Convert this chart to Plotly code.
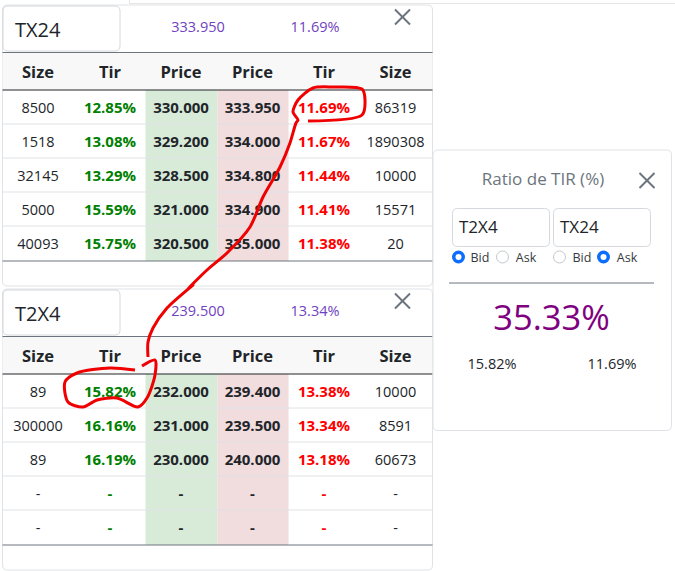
import plotly.graph_objects as go

# --- 1. DATA ---
HEADERS = ["Size", "Tir", "Price", "Price", "Tir", "Size"]

tx24_name = "TX24"
tx24_last_price = "333.950"
tx24_last_tir = "11.69%"
tx24_bid_size = ["8500", "1518", "32145", "5000", "40093"]
tx24_bid_tir = ["12.85%", "13.08%", "13.29%", "15.59%", "15.75%"]
tx24_bid_price = ["330.000", "329.200", "328.500", "321.000", "320.500"]
tx24_ask_price = ["333.950", "334.000", "334.800", "334.900", "335.000"]
tx24_ask_tir = ["11.69%", "11.67%", "11.44%", "11.41%", "11.38%"]
tx24_ask_size = ["86319", "1890308", "10000", "15571", "20"]

t2x4_name = "T2X4"
t2x4_last_price = "239.500"
t2x4_last_tir = "13.34%"
t2x4_bid_size = ["89", "300000", "89", "-", "-"]
t2x4_bid_tir = ["15.82%", "16.16%", "16.19%", "-", "-"]
t2x4_bid_price = ["232.000", "231.000", "230.000", "-", "-"]
t2x4_ask_price = ["239.400", "239.500", "240.000", "-", "-"]
t2x4_ask_tir = ["13.38%", "13.34%", "13.18%", "-", "-"]
t2x4_ask_size = ["10000", "8591", "60673", "-", "-"]

ratio_title = "Ratio de TIR (%)"
ratio_value = "35.33%"
ratio_left = "15.82%"
ratio_right = "11.69%"

# hand drawn red marks on top of the screenshot, in page pixels
stroke_x = [308, 362, 365, 362, 333, 313, 298, 293, 298, 296, 290, 280, 263, 250, 227, 207, 187,
            193, 167, 153, 148, 148]
stroke_y = [121, 115, 100, 89, 87, 88, 100, 112, 120, 123, 143, 167, 197, 227, 253, 270, 290,
            285, 308, 328, 342, 357]
circle_x = [142, 155, 155, 147, 138, 117, 97, 83, 68, 65, 77, 110, 135]
circle_y = [366, 360, 375, 398, 407, 398, 400, 407, 402, 382, 373, 368, 370]

FONT = "Open Sans"
DARK = "#212529"
GREY = "#6c757d"
PURPLE_TEXT = "#6f42c1"
GREEN = "#008000"
RED = "#ff0000"
BORDER = "#dfe2e6"

shapes = []
text_x, text_y, text_s, text_c, text_z = [], [], [], [], []
left_texts = []


def add_text(x, y, s, color=DARK, size=14.5, left=False):
    text_x.append(x)
    text_y.append(y)
    text_s.append(s)
    text_c.append(color)
    text_z.append(size)
    left_texts.append(left)


def rounded(x0, y0, x1, y1, r=5, fill="white", line=BORDER, width=1):
    path = (f"M{x0+r},{y0} L{x1-r},{y0} Q{x1},{y0} {x1},{y0+r} L{x1},{y1-r} Q{x1},{y1} {x1-r},{y1} "
            f"L{x0+r},{y1} Q{x0},{y1} {x0},{y1-r} L{x0},{y0+r} Q{x0},{y0} {x0+r},{y0} Z")
    shapes.append(dict(type="path", path=path, fillcolor=fill, line=dict(color=line, width=width)))


def rect(x0, y0, x1, y1, fill):
    shapes.append(dict(type="rect", x0=x0, y0=y0, x1=x1, y1=y1, fillcolor=fill, line=dict(width=0)))


def hline(x0, x1, y, color, width=1):
    shapes.append(dict(type="line", x0=x0, x1=x1, y0=y, y1=y, line=dict(color=color, width=width)))


def close_icon(cx, cy, half=7.5):
    for sign in (1, -1):
        shapes.append(dict(type="line", x0=cx - half, x1=cx + half, y0=cy - sign * half, y1=cy + sign * half,
                           line=dict(color=GREY, width=2)))


def radio(cx, cy, checked):
    if checked:
        shapes.append(dict(type="circle", x0=cx - 6.5, x1=cx + 6.5, y0=cy - 6.5, y1=cy + 6.5,
                           fillcolor="#0d6efd", line=dict(width=0)))
        shapes.append(dict(type="circle", x0=cx - 3, x1=cx + 3, y0=cy - 3, y1=cy + 3,
                           fillcolor="white", line=dict(width=0)))
    else:
        shapes.append(dict(type="circle", x0=cx - 6, x1=cx + 6, y0=cy - 6, y1=cy + 6,
                           fillcolor="white", line=dict(color="#c4c8cc", width=1)))


# --- 2. QUOTE CARDS ---
def quote_card(top, name, last_price, last_tir, columns):
    rounded(2.5, top, 432.5, top + 281)
    rounded(3, top + 1, 120, top + 46, fill="white", line="#d5d8dc")
    add_text(15, top + 26.5, name, size=20, left=True)
    add_text(198, top + 23, last_price, PURPLE_TEXT)
    add_text(315, top + 23, last_tir, PURPLE_TEXT)
    close_icon(402.5, top + 12)

    head_y0 = top + 47.5
    head_y1 = head_y0 + 37.5
    rect(2.5, head_y0, 432.5, head_y1, "#f8f8f8")
    rect(145.5, head_y1, 217.5, head_y1 + 171, "#d8ebd9")
    rect(217.5, head_y1, 288.5, head_y1 + 171, "#f1dcde")
    hline(2.5, 432.5, head_y0, GREY)
    hline(2.5, 432.5, head_y1, DARK)
    for i in range(1, 5):
        hline(2.5, 432.5, head_y1 + 34 * i, BORDER)
    hline(2.5, 432.5, head_y1 + 171, GREY)

    centers = [38, 110, 181, 252.5, 324, 395.5]
    for cx, head in zip(centers, HEADERS):
        add_text(cx, head_y0 + 21.5, f"<b>{head}</b>", DARK, 16.5)
    colors = [DARK, GREEN, DARK, DARK, RED, DARK]
    for j, col in enumerate(columns):
        for i, val in enumerate(col):
            bold = j in (1, 2, 3, 4)
            size = 15 if bold else 14.5
            add_text(centers[j], head_y1 + 19 + 34 * i, f"<b>{val}</b>" if bold else val, colors[j], size)


quote_card(5, tx24_name, tx24_last_price, tx24_last_tir,
           [tx24_bid_size, tx24_bid_tir, tx24_bid_price, tx24_ask_price, tx24_ask_tir, tx24_ask_size])
quote_card(289, t2x4_name, t2x4_last_price, t2x4_last_tir,
           [t2x4_bid_size, t2x4_bid_tir, t2x4_bid_price, t2x4_ask_price, t2x4_ask_tir, t2x4_ask_size])

# --- 3. RATIO CARD ---
rounded(433, 150, 671.5, 430.5)
add_text(543, 181, ratio_title, GREY, 17)
close_icon(647, 180.5)
rounded(452.5, 208.5, 549.5, 246.5, line="#d5d8dc")
rounded(553.5, 208.5, 650.5, 246.5, line="#d5d8dc")
add_text(459, 229, t2x4_name, DARK, 17, left=True)
add_text(560, 229, tx24_name, DARK, 17, left=True)
radio(458.5, 257, True)
radio(502.5, 257, False)
radio(559.5, 257, False)
radio(603.5, 257, True)
for cx, label in zip([480, 526, 582, 627], ["Bid", "Ask", "Bid", "Ask"]):
    add_text(cx, 258.5, label, "#343a40", 12.5)
hline(449, 654, 283, GREY)
add_text(551.5, 321.5, ratio_value, "#800080", 34.5)
add_text(492, 365, ratio_left, DARK, 14.5)
add_text(612, 365, ratio_right, DARK, 14.5)

# faint edge of a panel behind the cards
hline(129, 675, 3.5, "#e6e6e6")
shapes.append(dict(type="line", x0=129.5, x1=129.5, y0=0, y1=3.5, line=dict(color="#e6e6e6", width=1)))

# shapes have to stay under the text traces
for s in shapes:
    s["layer"] = "below"

# --- 4. FIGURE ---
fig = go.Figure()
# texts are split in left aligned (names) and centered ones
left_idx = [i for i, is_left in enumerate(left_texts) if is_left]
mid_idx = [i for i, is_left in enumerate(left_texts) if not is_left]
for idx, pos in ((left_idx, "middle right"), (mid_idx, "middle center")):
    fig.add_trace(go.Scatter(
        x=[text_x[i] for i in idx],
        y=[text_y[i] for i in idx],
        text=[text_s[i] for i in idx],
        mode="text",
        textposition=pos,
        textfont=dict(family=FONT, color=[text_c[i] for i in idx], size=[text_z[i] for i in idx]),
        hoverinfo="skip",
        cliponaxis=False,
    ))
for xs, ys in ((stroke_x, stroke_y), (circle_x, circle_y)):
    fig.add_trace(go.Scatter(x=xs, y=ys, mode="lines", hoverinfo="skip",
                             line=dict(color="#f00000", width=3, shape="spline", smoothing=0.8)))

fig.update_layout(
    width=675,
    height=571,
    margin=dict(l=0, r=0, t=0, b=0),
    paper_bgcolor="white",
    plot_bgcolor="white",
    showlegend=False,
    shapes=shapes,
    xaxis=dict(range=[0, 675], visible=False, fixedrange=True),
    yaxis=dict(range=[571, 0], visible=False, fixedrange=True),
)
fig.write_html("out.html", config={"displayModeBar": False},
               post_script="document.body.style.margin='0';")
